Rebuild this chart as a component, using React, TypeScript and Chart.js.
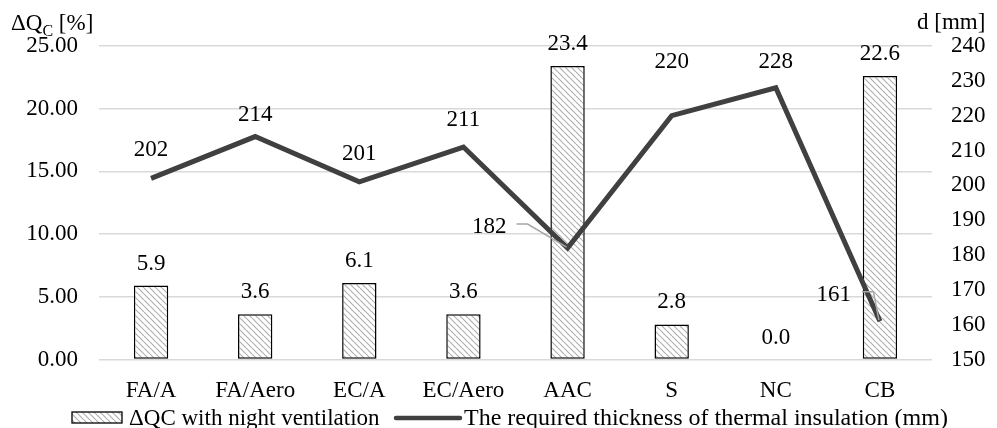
import React, { useEffect, useRef } from "react";
import { Chart, registerables } from "chart.js";

Chart.register(...registerables);

const categories = ["FA/A", "FA/Aero", "EC/A", "EC/Aero", "AAC", "S", "NC", "CB"];
const deltaQc = [5.9, 3.6, 6.1, 3.6, 23.4, 2.8, 0.0, 22.6];
const thickness = [202, 214, 201, 211, 182, 220, 228, 161];
const barLegend = "\u0394QC with night ventilation";
const lineLegend = "The required thickness of thermal insulation (mm)";

const FONT = "'Liberation Serif', 'Times New Roman', serif";
const LINE_COLOR = "#404040";
const GRID_COLOR = "#d9d9d9";
const LEADER_COLOR = "#a6a6a6";

// vertical offset of each line label centre above its point (px); null = placed left with leader
const lineLabelDy: (number | null)[] = [-30, -23.5, -30, -29, null, -55.5, -28, null];

function makePattern(): CanvasPattern | string {
  const n = 6;
  const c = document.createElement("canvas");
  c.width = n;
  c.height = n;
  const g = c.getContext("2d");
  if (!g) return "#ccc";
  g.fillStyle = "#ffffff";
  g.fillRect(0, 0, n, n);
  g.strokeStyle = "#b0b0b0";
  g.lineWidth = 1.2;
  for (const off of [-n, 0, n]) {
    g.beginPath();
    g.moveTo(off, 0);
    g.lineTo(off + n, n);
    g.stroke();
  }
  const p = g.createPattern(c, "repeat");
  return p || "#ccc";
}

export default function App() {
  const ref = useRef<HTMLCanvasElement | null>(null);

  useEffect(() => {
    if (!ref.current) return;
    const pattern = makePattern();

    const labelsPlugin = {
      id: "valueLabels",
      afterDatasetsDraw(chart: any) {
        const ctx = chart.ctx;
        ctx.save();
        ctx.font = `23px ${FONT}`;
        ctx.fillStyle = "#000";
        ctx.textBaseline = "alphabetic";
        const barMeta = chart.getDatasetMeta(1);
        barMeta.data.forEach((el: any, i: number) => {
          ctx.textAlign = "center";
          ctx.fillText(deltaQc[i].toFixed(1), el.x, el.y - 16);
        });
        const lineMeta = chart.getDatasetMeta(0);
        lineMeta.data.forEach((el: any, i: number) => {
          const txt = String(thickness[i]);
          if (i === 4) {
            ctx.strokeStyle = LEADER_COLOR;
            ctx.lineWidth = 1.5;
            ctx.beginPath();
            ctx.moveTo(el.x - 51, el.y - 24);
            ctx.lineTo(el.x - 40, el.y - 24);
            ctx.lineTo(el.x - 1, el.y - 1);
            ctx.stroke();
            ctx.textAlign = "right";
            ctx.fillText(txt, el.x - 61, el.y - 15);
          } else if (i === 7) {
            ctx.strokeStyle = LEADER_COLOR;
            ctx.lineWidth = 1.5;
            ctx.beginPath();
            ctx.moveTo(el.x - 18, el.y - 29.5);
            ctx.lineTo(el.x - 6.5, el.y - 29.5);
            ctx.lineTo(el.x - 1, el.y - 1);
            ctx.stroke();
            ctx.textAlign = "right";
            ctx.fillText(txt, el.x - 29, el.y - 20.5);
          } else {
            const dy = lineLabelDy[i] ?? -29;
            ctx.textAlign = "center";
            ctx.fillText(txt, el.x, el.y + dy + 8);
          }
        });
        ctx.restore();
      },
      afterDraw(chart: any) {
        const ctx = chart.ctx;
        ctx.save();
        ctx.fillStyle = "#000";
        ctx.textAlign = "left";
        ctx.textBaseline = "alphabetic";
        ctx.font = `23px ${FONT}`;
        ctx.fillText("\u0394Q", 11, 30);
        const w1 = ctx.measureText("\u0394Q").width;
        ctx.font = `16px ${FONT}`;
        ctx.fillText("C", 11 + w1, 36);
        const w2 = ctx.measureText("C").width;
        ctx.font = `23px ${FONT}`;
        ctx.fillText(" [%]", 11 + w1 + w2, 30);
        ctx.fillText("d [mm]", 917, 29);
        // legend
        ctx.fillStyle = pattern as any;
        ctx.fillRect(72, 412, 50, 11);
        ctx.strokeStyle = "#000";
        ctx.lineWidth = 1.3;
        ctx.strokeRect(72, 412, 50, 11);
        ctx.fillStyle = "#000";
        ctx.fillText(barLegend, 129, 425);
        ctx.strokeStyle = LINE_COLOR;
        ctx.lineWidth = 4.5;
        ctx.lineCap = "round";
        ctx.beginPath();
        ctx.moveTo(396, 418);
        ctx.lineTo(460, 418);
        ctx.stroke();
        ctx.font = `24px ${FONT}`;
        ctx.fillText(lineLegend, 464, 425);
        ctx.restore();
      },
    };

    const chart = new Chart(ref.current, {
      type: "bar",
      data: {
        labels: categories,
        datasets: [
          {
            type: "line",
            label: lineLegend,
            data: thickness,
            yAxisID: "y1",
            borderColor: LINE_COLOR,
            backgroundColor: LINE_COLOR,
            borderWidth: 5,
            pointRadius: 0,
            tension: 0,
            order: 0,
          } as any,
          {
            type: "bar",
            label: barLegend,
            data: deltaQc,
            yAxisID: "y",
            backgroundColor: pattern as any,
            borderColor: "#000",
            borderWidth: 1.5,
            borderSkipped: false,
            barPercentage: 0.33,
            categoryPercentage: 1,
            order: 1,
          } as any,
        ],
      },
      options: {
        responsive: false,
        animation: false,
        layout: { padding: { top: 46, bottom: 0, left: 0, right: 0 } },
        plugins: {
          legend: { display: false },
          tooltip: { enabled: false },
          title: { display: false },
        },
        scales: {
          x: {
            grid: { display: false },
            border: { display: false },
            ticks: {
              color: "#000",
              font: { family: FONT, size: 23 },
              padding: 10,
              maxRotation: 0,
              autoSkip: false,
            },
            afterFit: (s: any) => {
              s.height = 68.5;
            },
          },
          y: {
            position: "left",
            min: 0,
            max: 25,
            grid: { color: GRID_COLOR, lineWidth: 1.5, drawTicks: false },
            border: { display: false },
            ticks: {
              stepSize: 5,
              color: "#000",
              font: { family: FONT, size: 23 },
              padding: 21,
              callback: (v: any) => Number(v).toFixed(2),
            },
            afterFit: (s: any) => {
              s.width = 99;
            },
          },
          y1: {
            position: "right",
            min: 150,
            max: 240,
            grid: { display: false, drawTicks: false },
            border: { display: false },
            ticks: {
              stepSize: 10,
              color: "#000",
              font: { family: FONT, size: 23 },
              padding: 19,
            },
            afterFit: (s: any) => {
              s.width = 65;
            },
          },
        },
      } as any,
      plugins: [labelsPlugin],
    });

    return () => chart.destroy();
  }, []);

  return (
    <div style={{ position: "absolute", left: 0, top: 0, width: 997, height: 428, background: "#fff" }}>
      <canvas ref={ref} width={997} height={428} style={{ display: "block", width: 997, height: 428 }} />
    </div>
  );
}
